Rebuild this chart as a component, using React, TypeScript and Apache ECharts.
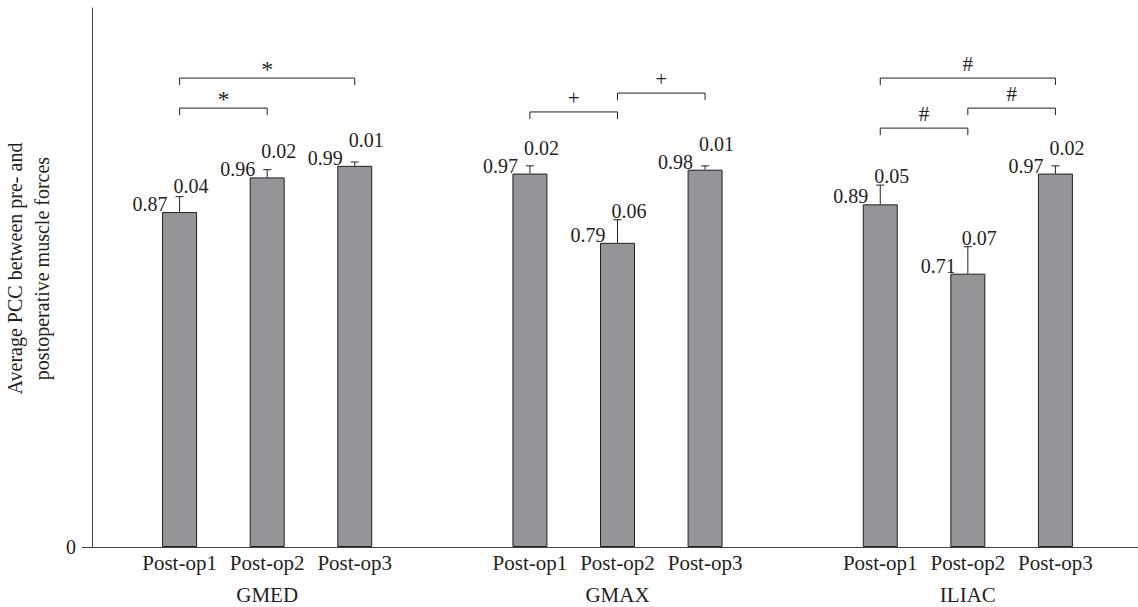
import React, { useEffect, useRef } from "react";
import * as echarts from "echarts";

const groups = ["GMED", "GMAX", "ILIAC"];
const conditions = ["Post-op1", "Post-op2", "Post-op3"];
const gmedMeans = [0.87, 0.96, 0.99];
const gmedErrors = [0.04, 0.02, 0.01];
const gmaxMeans = [0.97, 0.79, 0.98];
const gmaxErrors = [0.02, 0.06, 0.01];
const iliacMeans = [0.89, 0.71, 0.97];
const iliacErrors = [0.05, 0.07, 0.02];
const yTickValues = [0];
// significance brackets: [fromCondition, toCondition, level, mark]
const gmedBrackets: [number, number, number, string][] = [
  [0, 2, 1.218, "*"],
  [0, 1, 1.14, "*"],
];
const gmaxBrackets: [number, number, number, string][] = [
  [0, 1, 1.13, "+"],
  [1, 2, 1.179, "+"],
];
const iliacBrackets: [number, number, number, string][] = [
  [0, 2, 1.218, "#"],
  [1, 2, 1.14, "#"],
  [0, 1, 1.088, "#"],
];

const FONT = "'Liberation Serif', 'DejaVu Serif', serif";
const INK = "#231f20";
const AXIS = "#444444";

const slot = (g: number, c: number) => g * 4 + c + 1;

export default function App() {
  const ref = useRef<HTMLDivElement>(null);
  useEffect(() => {
    if (!ref.current) return;
    const chart = echarts.init(ref.current, undefined, { renderer: "svg" });
    const meansByGroup = [gmedMeans, gmaxMeans, iliacMeans];
    const errorsByGroup = [gmedErrors, gmaxErrors, iliacErrors];
    const bracketsByGroup = [gmedBrackets, gmaxBrackets, iliacBrackets];

    const barData: number[][] = [];
    const errData: number[][] = [];
    meansByGroup.forEach((means, g) => {
      means.forEach((m, c) => {
        barData.push([slot(g, c), m]);
        errData.push([slot(g, c), m, errorsByGroup[g][c]]);
      });
    });
    const bracketData: (number | string)[][] = [];
    bracketsByGroup.forEach((list, g) => {
      list.forEach(([a, b, lvl, mark]) => {
        bracketData.push([slot(g, a), slot(g, b), lvl, mark]);
      });
    });

    const condPositions: number[] = [];
    const groupPositions: number[] = [];
    groups.forEach((_, g) => {
      conditions.forEach((_, c) => condPositions.push(slot(g, c)));
      groupPositions.push(slot(g, 1));
    });

    chart.setOption({
      animation: false,
      grid: { left: 92, right: -5, top: 8, bottom: 60, outerBoundsMode: "none", containLabel: false },
      xAxis: [
        {
          type: "value",
          min: 0,
          max: 12,
          axisLine: { show: true, lineStyle: { color: AXIS, width: 1 } },
          axisTick: { show: false },
          splitLine: { show: false },
          axisLabel: {
            customValues: condPositions,
            formatter: (v: number) => conditions[Math.round(v - 1) % 4] ?? "",
            color: INK,
            fontFamily: FONT,
            fontSize: 21,
            margin: 5,
          },
        },
        {
          type: "value",
          min: 0,
          max: 12,
          position: "bottom",
          axisLine: { show: false },
          axisTick: { show: false },
          splitLine: { show: false },
          axisLabel: {
            customValues: groupPositions,
            formatter: (v: number) => groups[Math.round((v - 2) / 4)] ?? "",
            color: INK,
            fontFamily: FONT,
            fontSize: 21,
            margin: 37,
          },
        },
      ],
      yAxis: {
        type: "value",
        min: 0,
        max: 1.4,
        name: "Average PCC between pre- and\npostoperative muscle forces",
        nameLocation: "middle",
        nameGap: 37,
        nameTextStyle: {
          color: INK,
          fontFamily: FONT,
          fontSize: 20,
          lineHeight: 27,
          padding: [0, 0, 0, 18],
        },
        axisLine: { show: true, lineStyle: { color: AXIS, width: 1 } },
        axisTick: { show: true, customValues: yTickValues, length: 10, lineStyle: { color: AXIS } },
        splitLine: { show: false },
        axisLabel: {
          customValues: yTickValues,
          color: INK,
          fontFamily: FONT,
          fontSize: 20,
          margin: 16,
        },
      },
      series: [
        {
          type: "bar",
          data: barData,
          barWidth: 35,
          itemStyle: { color: "#939598", borderColor: INK, borderWidth: 1 },
        },
        {
          type: "custom",
          data: errData,
          encode: { x: 0, y: [1, 2] },
          clip: false,
          z: 5,
          renderItem: (params: any, api: any) => {
            const x = api.value(0);
            const m = api.value(1);
            const e = api.value(2);
            const base = api.coord([x, m]);
            const top = api.coord([x, m + e]);
            const cap = 4;
            const errLabelY = Math.min(top[1] - 4, base[1] - 21);
            return {
              type: "group",
              children: [
                {
                  type: "line",
                  shape: { x1: base[0], y1: base[1], x2: top[0], y2: top[1] },
                  style: { stroke: INK, lineWidth: 1 },
                },
                {
                  type: "line",
                  shape: { x1: top[0] - cap, y1: top[1], x2: top[0] + cap, y2: top[1] },
                  style: { stroke: INK, lineWidth: 1 },
                },
                {
                  type: "text",
                  x: base[0] - 12,
                  y: base[1] + 2,
                  style: {
                    text: m.toFixed(2),
                    fill: INK,
                    font: `20px ${FONT}`,
                    align: "right",
                    verticalAlign: "bottom",
                  },
                },
                {
                  type: "text",
                  x: base[0] - 6,
                  y: errLabelY + 5,
                  style: {
                    text: e.toFixed(2),
                    fill: INK,
                    font: `20px ${FONT}`,
                    align: "left",
                    verticalAlign: "bottom",
                  },
                },
              ],
            };
          },
        },
        {
          type: "custom",
          data: bracketData,
          encode: { x: [0, 1], y: 2 },
          clip: false,
          z: 5,
          renderItem: (params: any, api: any) => {
            const a = api.coord([api.value(0), api.value(2)]);
            const b = api.coord([api.value(1), api.value(2)]);
            const mark = bracketData[params.dataIndex][3] as string;
            const drop = 7;
            const big = mark === "*";
            return {
              type: "group",
              children: [
                {
                  type: "polyline",
                  shape: {
                    points: [
                      [a[0], a[1] + drop],
                      [a[0], a[1]],
                      [b[0], b[1]],
                      [b[0], b[1] + drop],
                    ],
                  },
                  style: { stroke: INK, lineWidth: 1, fill: "none" },
                },
                {
                  type: "text",
                  x: (a[0] + b[0]) / 2,
                  y: a[1] - (big ? 9 : 14),
                  style: {
                    text: mark,
                    fill: INK,
                    font: `${big ? 24 : 21}px ${FONT}`,
                    align: "center",
                    verticalAlign: "middle",
                  },
                },
              ],
            };
          },
        },
      ],
    });
    return () => chart.dispose();
  }, []);
  return (
    <div
      ref={ref}
      style={{ position: "fixed", left: 0, top: 0, width: 1138, height: 607, background: "#fff" }}
    />
  );
}
